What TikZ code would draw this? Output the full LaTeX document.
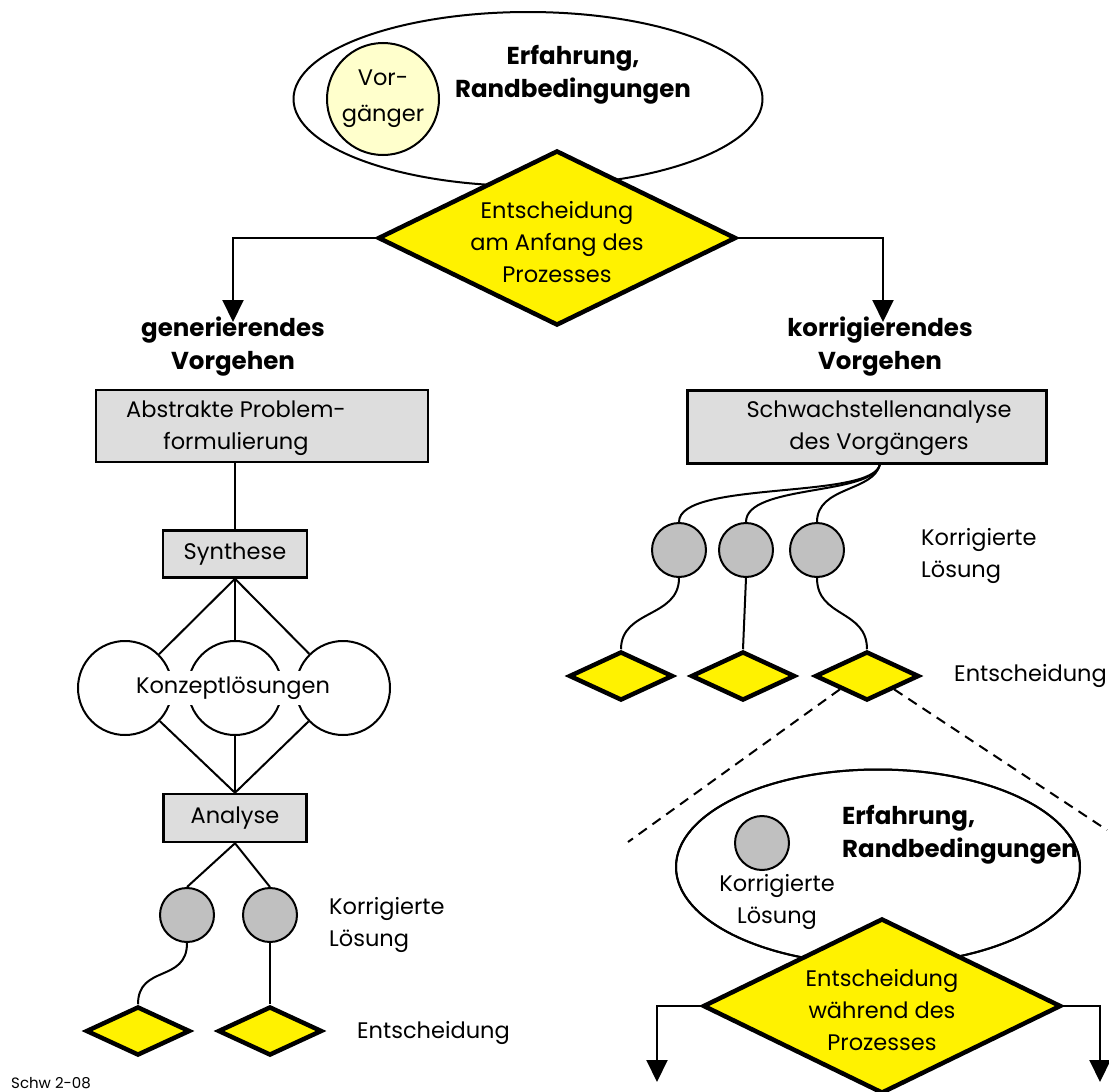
\documentclass[tikz,border=0pt]{standalone}
\usepackage{fontspec}
\setmainfont{Poppins}
\usetikzlibrary{shapes.geometric,arrows.meta,calc}
\definecolor{boxgray}{HTML}{DDDDDD}
\definecolor{solgray}{HTML}{C0C0C0}
\definecolor{predyellow}{HTML}{FFFFCC}
\begin{document}
\begin{tikzpicture}[x=1pt,y=-1pt,
  txt/.style={font=\fontsize{22.5}{32}\selectfont, inner sep=0pt, align=center},
  bold/.style={font=\fontsize{24.5}{33}\selectfont\bfseries, inner sep=0pt, align=center},
  conn/.style={line width=2pt},
  arr/.style={line width=2pt, -{Triangle[width=21pt,length=22pt]}},
  bigdec/.style={diamond, draw, fill=yellow, line width=4.5pt, inner sep=0pt,
    minimum width=358pt, minimum height=175pt},
  smalldec/.style={diamond, draw, fill=yellow, line width=4.5pt, inner sep=0pt,
    minimum width=104pt, minimum height=49pt},
  stepbox/.style={rectangle, draw, fill=boxgray, line width=2.5pt, inner sep=0pt},
  concept/.style={circle, draw, line width=2pt, minimum size=94pt, inner sep=0pt},
  solution/.style={circle, draw, fill=solgray, line width=2pt, minimum size=54pt, inner sep=0pt},
  cloud/.style={ellipse, draw, fill=white, line width=2pt, inner sep=0pt},
  dashedline/.style={line width=2pt, dash pattern=on 10pt off 7pt},
]
\useasboundingbox (0,0) rectangle (1109,1092);

% ---------- start of the process ----------
\node[cloud, minimum width=469pt, minimum height=174pt] (exp) at (528,99) {};
\node[circle, draw, fill=predyellow, line width=2pt, minimum size=112pt, inner sep=0pt] (pred) at (383,99) {};
\node[txt, font=\fontsize{22.5}{36}\selectfont] (predt) at (383,99) {Vor-\\gänger};
\node[bold] (expt) at (573,75) {Erfahrung,\\Randbedingungen};
\node[bigdec] (d0) at (557,238) {};
\node[txt] (d0t) at (557,242) {Entscheidung\\am Anfang des\\Prozesses};

\coordinate (genend) at (233,322);
\coordinate (korend) at (883,322);
\draw[arr] (d0.west) -| (genend);
\draw[arr] (d0.east) -| (korend);

\node[bold] (gen) at (233,347) {generierendes\\Vorgehen};
\node[bold] (kor) at (880,347) {korrigierendes\\Vorgehen};

% ---------- generating approach ----------
\node[stepbox, minimum width=332pt, minimum height=72pt] (prob) at (262,426) {};
\node[txt] (probt) at (236,428) {Abstrakte Problem-\\formulierung};
\node[stepbox, minimum width=144pt, minimum height=47pt] (syn) at (235,554) {};
\node[txt] (synt) at (235,554) {Synthese};
\draw[conn] (syn.north |- prob.south) -- (syn.north);

\node[concept] (k1) at (125,688) {};
\node[concept] (k2) at (235,688) {};
\node[concept] (k3) at (343,688) {};
\node[stepbox, minimum width=143pt, minimum height=48pt] (ana) at (235,818) {};
\node[txt] (anat) at (235,818) {Analyse};
\foreach \k in {k1,k2,k3} {
  \draw[conn] (syn.south) -- (\k);
  \draw[conn] (ana.north) -- (\k);
}
\node[txt, fill=white, inner xsep=3pt, inner ysep=6pt] (kont) at (233,688) {Konzeptlösungen};

\node[solution] (g1) at (187,915) {};
\node[solution] (g2) at (270,915) {};
\draw[conn] (ana.south) -- (g1.north);
\draw[conn] (ana.south) -- (g2.north);
\node[smalldec] (s1) at (138,1031) {};
\node[smalldec] (s2) at (270,1031) {};
\draw[conn] (g1.south) .. controls +(0,40) and +(0,-40) .. (s1.north);
\draw[conn] (g2.south) -- (s2.north);
\node[txt, align=left, anchor=west] (gsol) at (329,925) {Korrigierte\\Lösung};
\node[txt, anchor=west] (gdec) at (357,1033) {Entscheidung};

\node[font=\fontsize{15}{18}\selectfont, inner sep=0pt, anchor=west] (ref) at (11,1083) {Schw 2-08};

% ---------- correcting approach ----------
\node[stepbox, minimum width=359pt, minimum height=73pt] (weak) at (867,427) {};
\node[txt] (weakt) at (879,428) {Schwachstellenanalyse\\des Vorgängers};
\coordinate (fan) at (880,464);

\node[solution] (r1) at (679,550) {};
\node[solution] (r2) at (746,550) {};
\node[solution] (r3) at (817,550) {};
\draw[conn] (fan) .. controls (874,500) and (679,480) .. (r1.north);
\draw[conn] (fan) .. controls (874,496) and (746,484) .. (r2.north);
\draw[conn] (fan) .. controls (874,492) and (817,486) .. (r3.north);

\node[smalldec] (t1) at (621,676) {};
\node[smalldec] (t2) at (743,676) {};
\node[smalldec] (t3) at (867,676) {};
\draw[conn] (r1.south) .. controls +(0,40) and +(0,-40) .. (t1.north);
\draw[conn] (r2.south) -- (t2.north);
\draw[conn] (r3.south) .. controls +(0,40) and +(0,-40) .. (t3.north);

\node[txt, align=left, anchor=west] (rsol) at (921,556) {Korrigierte\\Lösung};
\node[txt, anchor=west] (rdec) at (954,676) {Entscheidung};

% ---------- zoom into a decision during the process ----------
\coordinate (zl) at (628,842);
\coordinate (zr) at (1107,830);
\draw[dashedline] (t3.south west) -- (zl);
\draw[dashedline] (t3.south east) -- (zr);

\node[cloud, minimum width=404pt, minimum height=195pt] (exp2) at (878,867) {};
\node[solution] (cur) at (762,843) {};
\node[txt] (curt) at (777,902) {Korrigierte\\Lösung};
% the label runs into the rim of the ellipse and is cut off there
\begin{scope}
  \clip (exp2.center) ellipse [x radius=201, y radius=96.5];
  \node[bold, align=left, anchor=west] (exp2t) at (842,835) {Erfahrung,\\Randbedingungen};
\end{scope}
\draw[line width=2pt] (exp2.center) ellipse [x radius=202, y radius=97.5];
\node[bigdec] (d1) at (882,1006) {};
\node[txt] (d1t) at (882,1010) {Entscheidung\\während des\\Prozesses};

\coordinate (leftend) at (657,1082);
\coordinate (rightend) at (1100,1082);
\draw[arr] (d1.west) -| (leftend);
\draw[arr] (d1.east) -| (rightend);
\end{tikzpicture}
\end{document}
